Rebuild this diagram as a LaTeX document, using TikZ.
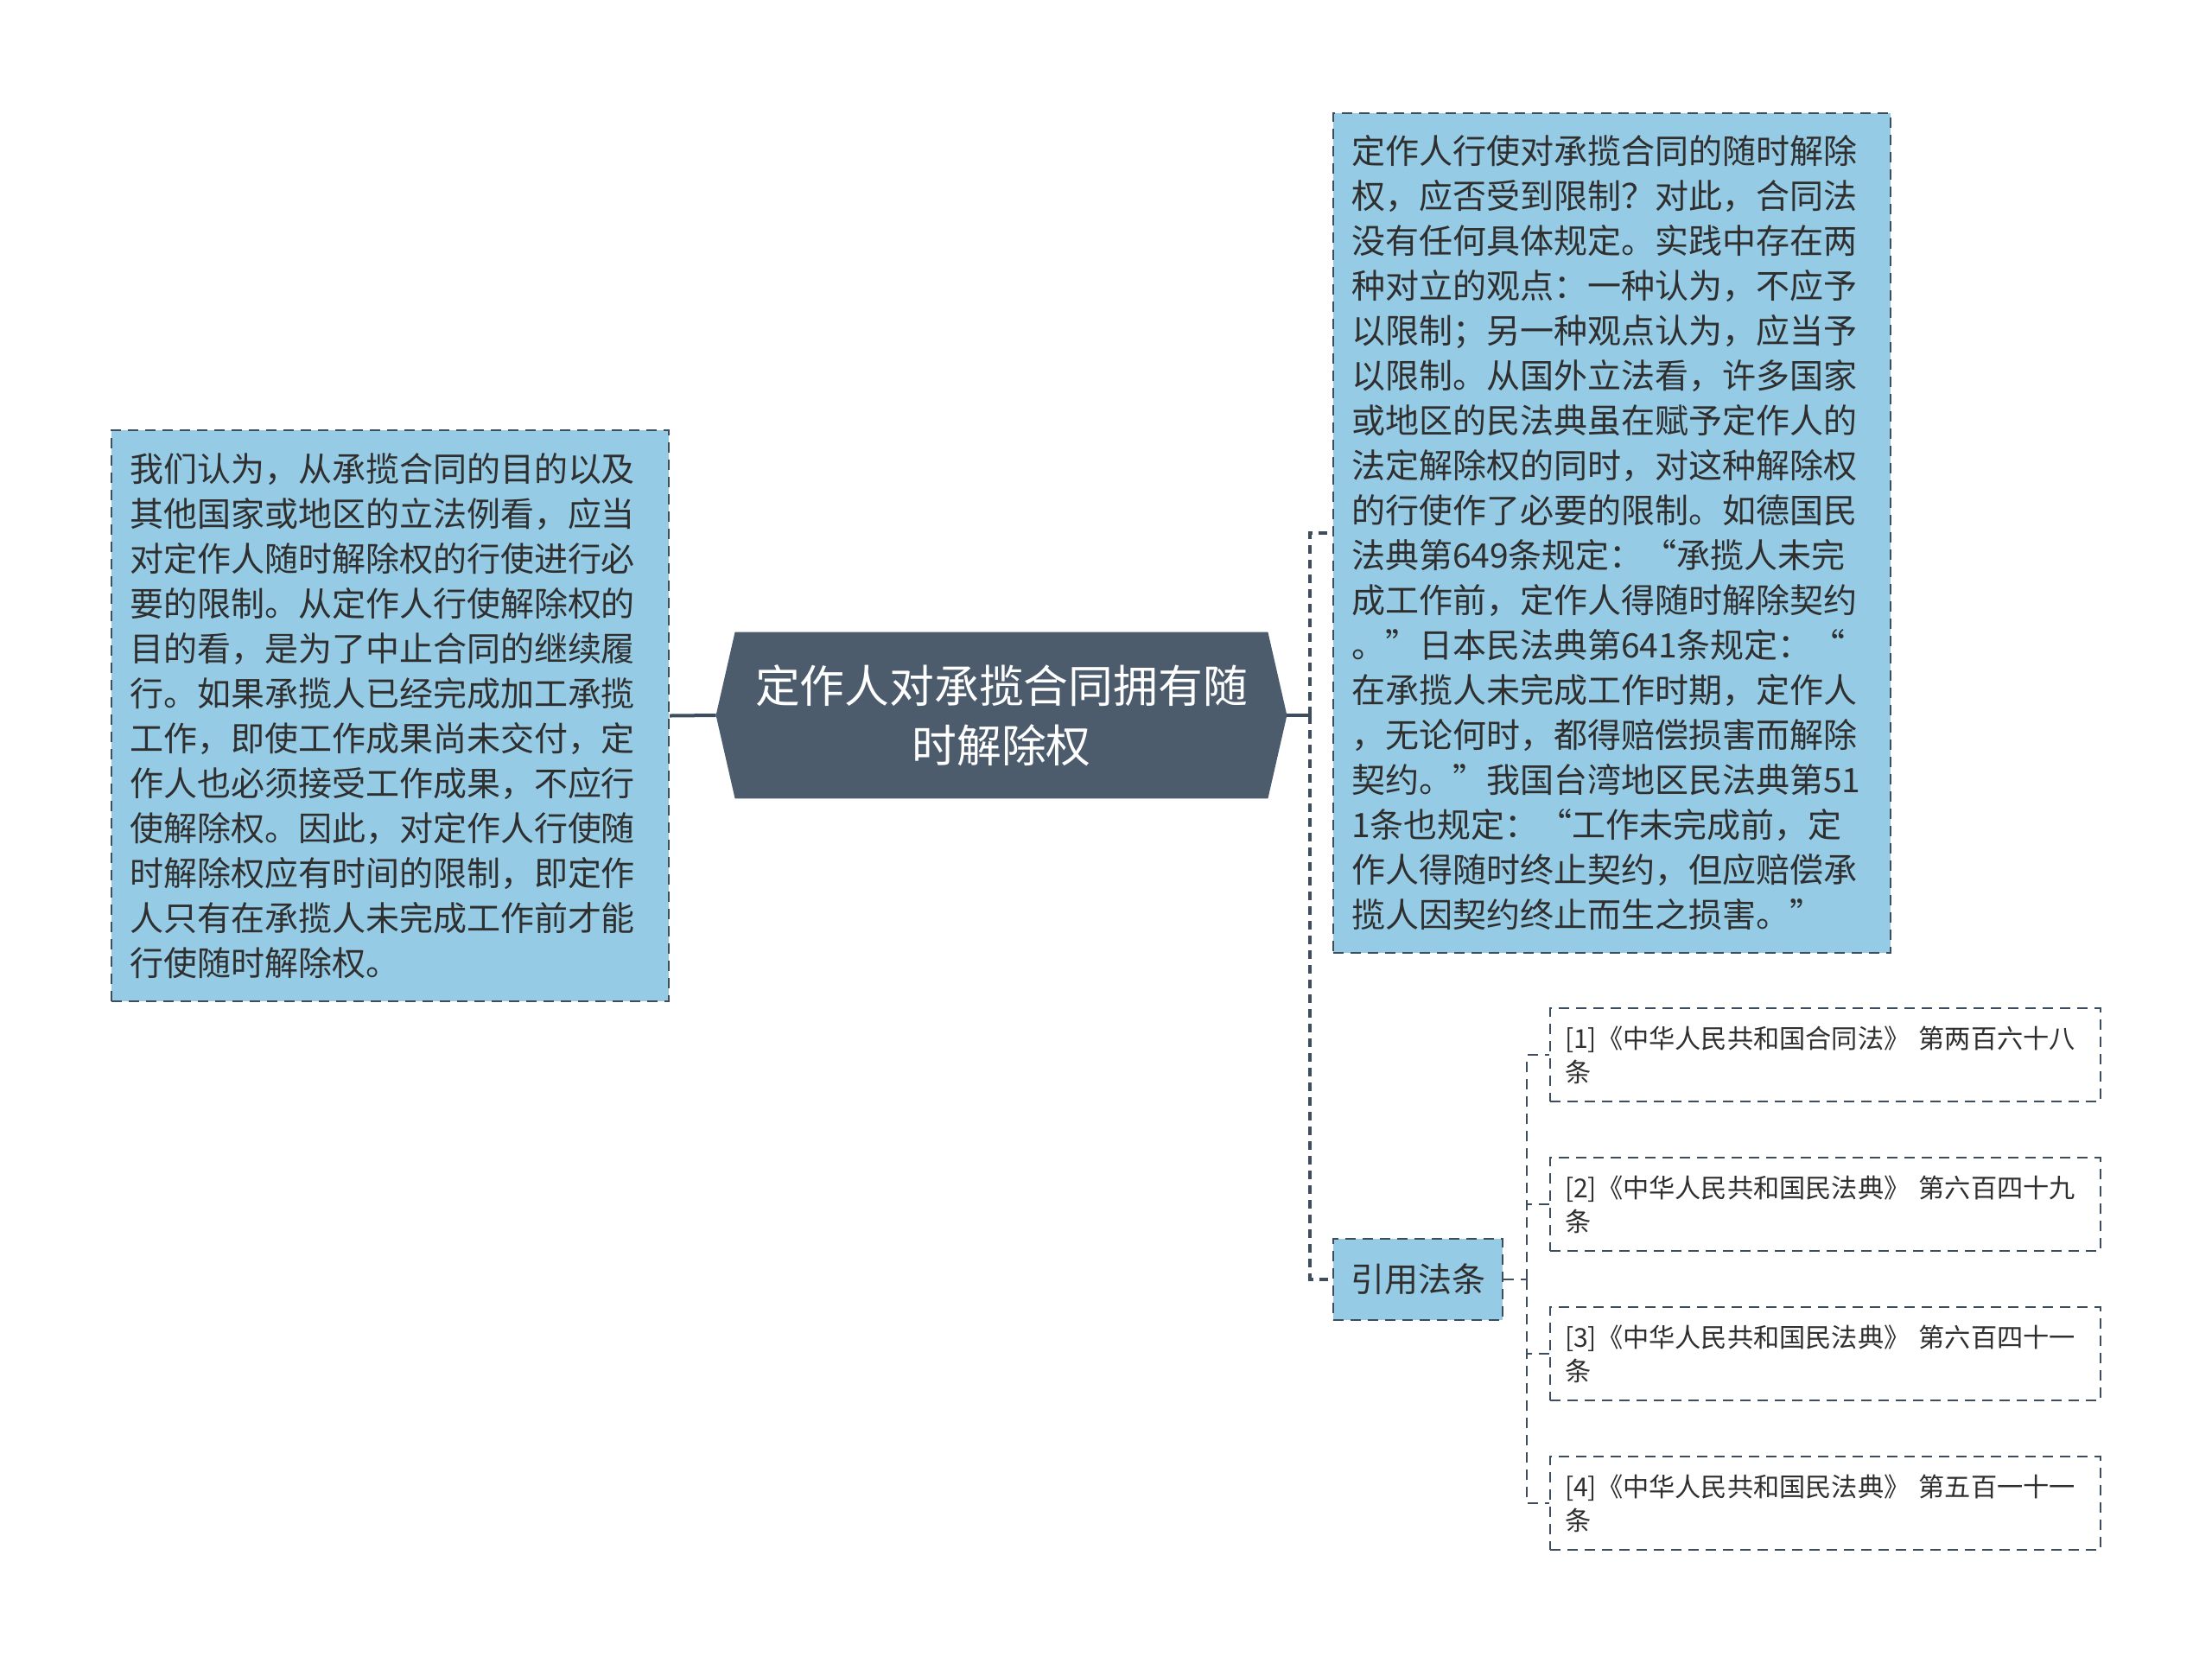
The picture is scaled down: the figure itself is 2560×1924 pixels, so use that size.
\documentclass[tikz,border=0pt]{standalone}
\usepackage{fontspec}
\setmainfont{Noto Sans CJK SC}
\usetikzlibrary{backgrounds}
\definecolor{boxblue}{HTML}{95CBE4}
\definecolor{ctrfill}{HTML}{4C5C6C}
\definecolor{bordc}{HTML}{3D4D5D}
\definecolor{txt}{HTML}{2F2F2F}
\begin{document}
\begin{tikzpicture}[x=0.5pt,y=-0.5pt,
  bluebox/.style={draw=bordc, fill=boxblue, line width=1pt, dash pattern=on 6pt off 4pt,
    text=txt, align=left, inner sep=0pt, font=\fontsize{19.5pt}{26pt}\selectfont},
  refbox/.style={draw=bordc, fill=white, line width=1pt, dash pattern=on 6pt off 4pt,
    text=txt, align=left, inner sep=0pt, font=\fontsize{15.1pt}{19.5pt}\selectfont,
    minimum width=318.5pt, minimum height=54pt, text width=301.5pt},
  conn/.style={draw=bordc, line width=2pt},
  dconn/.style={draw=bordc, line width=2pt, dash pattern=on 5pt off 3.5pt},
  sconn/.style={draw=bordc, line width=1pt, dash pattern=on 6pt off 4pt}]
\useasboundingbox (0,0) rectangle (2560,1924);

\node[bluebox, minimum width=322.5pt, minimum height=330.5pt, text width=301.5pt] (lbox) at (451.5,828.5) {我们认为，从承揽合同的目的以及\\其他国家或地区的立法例看，应当\\对定作人随时解除权的行使进行必\\要的限制。从定作人行使解除权的\\目的看，是为了中止合同的继续履\\行。如果承揽人已经完成加工承揽\\工作，即使工作成果尚未交付，定\\作人也必须接受工作成果，不应行\\使解除权。因此，对定作人行使随\\时解除权应有时间的限制，即定作\\人只有在承揽人未完成工作前才能\\行使随时解除权。};

\node[minimum width=330pt, minimum height=96pt, inner sep=0pt, text=white, align=center,
  font=\fontsize{25.9pt}{34.5pt}\selectfont] (ctr) at (1159,828) {定作人对承揽合同拥有随\\时解除权};
\begin{scope}[on background layer]
\fill[ctrfill] (ctr.west) -- ([xshift=11pt]ctr.north west) -- ([xshift=-11pt]ctr.north east) -- (ctr.east) -- ([xshift=-11pt]ctr.south east) -- ([xshift=11pt]ctr.south west) -- cycle;
\end{scope}

\node[bluebox, minimum width=322.5pt, minimum height=486pt, text width=301.5pt] (rbox) at (1865.5,617) {定作人行使对承揽合同的随时解除\\权，应否受到限制？对此，合同法\\没有任何具体规定。实践中存在两\\种对立的观点：一种认为，不应予\\以限制；另一种观点认为，应当予\\以限制。从国外立法看，许多国家\\或地区的民法典虽在赋予定作人的\\法定解除权的同时，对这种解除权\\的行使作了必要的限制。如德国民\\法典第649条规定：“承揽人未完\\成工作前，定作人得随时解除契约\\。”日本民法典第641条规定：“\\在承揽人未完成工作时期，定作人\\，无论何时，都得赔偿损害而解除\\契约。”我国台湾地区民法典第51\\1条也规定：“工作未完成前，定\\作人得随时终止契约，但应赔偿承\\揽人因契约终止而生之损害。”};

\node[bluebox, minimum width=98pt, minimum height=47pt, align=center] (cite) at (1641,1480.5) {引用法条};

\node[refbox] (r1) at (2112.5,1221) {[1]《中华人民共和国合同法》~第两百六十八\\条};
\node[refbox] (r2) at (2112.5,1394) {[2]《中华人民共和国民法典》~第六百四十九\\条};
\node[refbox] (r3) at (2112.5,1567) {[3]《中华人民共和国民法典》~第六百四十一\\条};
\node[refbox] (r4) at (2112.5,1740) {[4]《中华人民共和国民法典》~第五百一十一\\条};

\draw[conn] (lbox.east) -- (ctr.west);
\coordinate (rj) at (1516,828);
\draw[conn] (ctr.east) -- (rj);
\draw[dconn] (rj) |- (rbox.west);
\draw[dconn] (rj) |- (cite.west);
\coordinate (cj) at (1767,1480.5);
\draw[sconn] (cite.east) -- (cj);
\draw[sconn] (cj) |- (r1.west);
\draw[sconn] (cj) |- (r2.west);
\draw[sconn] (cj) |- (r3.west);
\draw[sconn] (cj) |- (r4.west);
\end{tikzpicture}
\end{document}
